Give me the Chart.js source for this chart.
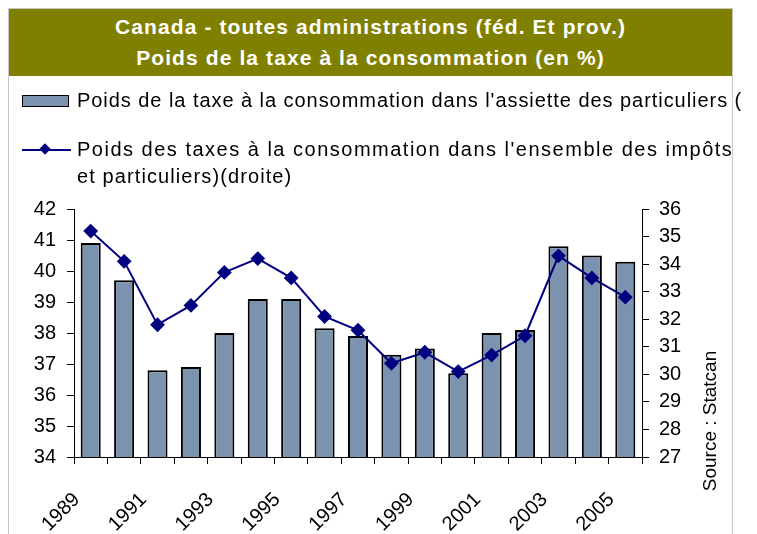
<!DOCTYPE html>
<html>
<head>
<meta charset="utf-8">
<script src="https://cdn.jsdelivr.net/npm/chart.js@4"></script>
<style>
  body { margin: 0; width: 757px; height: 534px; overflow: hidden; background: #fff; font-family: 'Liberation Sans', Arial, sans-serif; }
  #frame { position: absolute; left: 8px; top: 8px; width: 723px; height: 600px; border: 1px solid #c8c8c8; }
  #banner { position: absolute; left: 8px; top: 9px; width: 725px; height: 67px; background: #808000; color: #fff;
            font-weight: bold; font-size: 21px; letter-spacing: 1.1px; line-height: 31px; text-align: center; padding-top: 2px; box-sizing: border-box; }
  #legend { position: absolute; left: 0; top: 80px; width: 745px; height: 110px; overflow: hidden; font-size: 20px; letter-spacing: 1.1px; color: #000; white-space: nowrap; }
  .lg-text { position: absolute; left: 77px; line-height: 27px; }
  #swatch { position: absolute; left: 22px; top: 15px; width: 45px; height: 10px; background: #7b93ae; border: 1.5px solid #000; }
  #lline { position: absolute; left: 22px; top: 69px; width: 49px; height: 2px; background: #000080; }
  #ldiam { position: absolute; left: 41px; top: 65px; width: 8px; height: 8px; background: #000080; transform: rotate(45deg); }
  #source { position: absolute; left: 710px; top: 421px; font-size: 19px; transform: translate(-50%, -50%) rotate(-90deg); white-space: nowrap; }
  canvas { position: absolute; left: 0; top: 0; }
</style>
</head>
<body>
<canvas id="chart" width="757" height="534"></canvas>
<div id="banner">Canada - toutes administrations (féd. Et prov.)<br>Poids de la taxe à la consommation (en %)</div>
<div id="legend">
  <div id="swatch"></div>
  <div class="lg-text" style="top:7px; letter-spacing:0.95px">Poids de la taxe à la consommation dans l'assiette des particuliers (</div>
  <div id="lline"></div><div id="ldiam"></div>
  <div class="lg-text" style="top:56px; letter-spacing:1.5px">Poids des taxes à la consommation dans l'ensemble des impôts</div>
  <div class="lg-text" style="top:83px">et particuliers)(droite)</div>
</div>
<div id="frame"></div>
<div id="source">Source : Statcan</div>
<script>
const years = ['1989', '1990', '1991', '1992', '1993', '1994', '1995', '1996', '1997',
               '1998', '1999', '2000', '2001', '2002', '2003', '2004', '2005'];
// left axis: share in the individuals' base
const assiette = [40.9, 39.7, 36.8, 36.9, 38.0, 39.1, 39.1, 38.15, 37.9,
                  37.3, 37.5, 36.7, 38.0, 38.1, 40.8, 40.5, 40.3];
// right axis: share in total taxes
const ensemble = [35.2, 34.1, 31.8, 32.5, 33.7, 34.2, 33.5, 32.1, 31.6,
                  30.4, 30.8, 30.1, 30.7, 31.4, 34.3, 33.5, 32.8];
const leftRange = [34, 42];
const rightRange = [27, 36];

const tickFont = { family: "'Liberation Sans', Arial, sans-serif", size: 20 };

new Chart(document.getElementById('chart'), {
    type: 'bar',
    data: {
        labels: years,
        datasets: [
            {
                type: 'line',
                label: 'ensemble',
                data: ensemble,
                yAxisID: 'y1',
                borderColor: '#000080',
                backgroundColor: '#000080',
                borderWidth: 2,
                pointStyle: 'rectRot',
                pointRadius: 6,
                pointHoverRadius: 6,
                tension: 0,
                order: 0
            },
            {
                label: 'assiette',
                data: assiette,
                yAxisID: 'y',
                backgroundColor: '#7b93ae',
                borderColor: '#000',
                borderWidth: 2,
                borderSkipped: false,
                categoryPercentage: 1,
                barPercentage: 0.6,
                order: 1
            }
        ]
    },
    options: {
        responsive: false,
        animation: false,
        layout: { padding: { top: 209, left: 0, right: 0, bottom: 0 } },
        plugins: { legend: { display: false }, title: { display: false }, tooltip: { enabled: false } },
        scales: {
            x: {
                afterFit: s => { s.height = 77; },
                grid: { drawOnChartArea: false, tickLength: 7, color: '#000', offset: true },
                border: { color: '#000', width: 1 },
                ticks: {
                    color: '#000', font: tickFont, autoSkip: false, minRotation: 45, maxRotation: 45,
                    padding: 24, labelOffset: -14,
                    callback: (v, i) => i % 2 === 0 ? years[i] : ''
                }
            },
            y: {
                position: 'left',
                min: leftRange[0], max: leftRange[1],
                afterFit: s => { s.width = 74; },
                grid: { drawOnChartArea: false, tickLength: 7, color: '#000' },
                border: { color: '#000', width: 1 },
                ticks: { stepSize: 1, color: '#000', font: tickFont, padding: 11 }
            },
            y1: {
                position: 'right',
                min: rightRange[0], max: rightRange[1],
                afterFit: s => { s.width = 115; },
                grid: { drawOnChartArea: false, tickLength: 7, color: '#000' },
                border: { color: '#000', width: 1 },
                ticks: { stepSize: 1, color: '#000', font: tickFont, padding: 10 }
            }
        }
    }
});
</script>
</body>
</html>
